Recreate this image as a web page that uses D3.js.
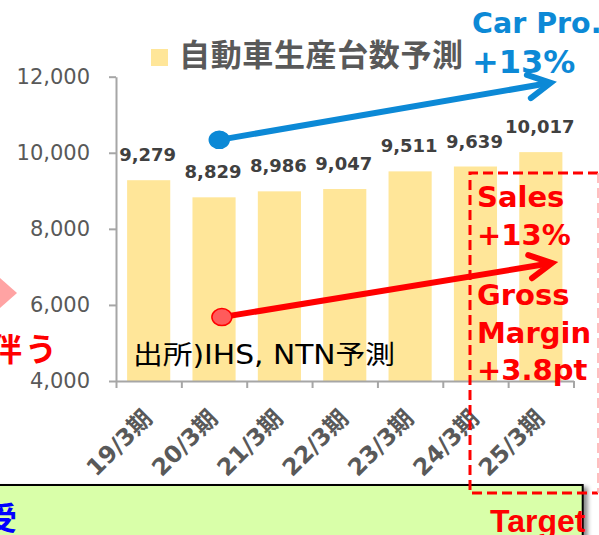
<!DOCTYPE html>
<html>
<head>
<meta charset="utf-8">
<script src="https://cdn.jsdelivr.net/npm/d3@7"></script>
<style>
  body { margin: 0; background: #fff; }
  svg { display: block; }
</style>
</head>
<body>
<div id="chart"></div>
<script>
// Chart data
const categories = ["19/3期", "20/3期", "21/3期", "22/3期", "23/3期", "24/3期", "25/3期"];
const production = [9279, 8829, 8986, 9047, 9511, 9639, 10017];
const yTicks = [4000, 6000, 8000, 10000, 12000];
const legendLabel = "自動車生産台数予測";

// Annotation arrows, in band-index / value units
const carArrowIdx = [1.58, 6.65];
const carArrowVal = [10340, 11840];
const salesArrowIdx = [1.62, 6.67];
const salesArrowVal = [5680, 7100];
const targetLines = ["Sales", "+13%", "Gross", "Margin", "+3.8pt"];

const svgWidth = 599;
const svgHeight = 535;
const margin = { top: 76.7, left: 116, right: 25.5, bottom: 154 };
const height = svgHeight - margin.top - margin.bottom;

const numFont = "'DejaVu Sans', 'Noto Sans CJK JP', sans-serif";
const jpFont = "'Noto Sans CJK JP', sans-serif";
const blue = "#0C89D6";
const red = "#FF0000";

const svg = d3.select("#chart")
    .append("svg")
    .attr("width", svgWidth)
    .attr("height", svgHeight);

const defs = svg.append("defs");
defs.append("filter")
    .attr("id", "shadow")
    .attr("x", "-10%").attr("y", "-10%").attr("width", "130%").attr("height", "150%")
    .append("feDropShadow")
    .attr("dx", 4).attr("dy", 3)
    .attr("stdDeviation", 2)
    .attr("flood-color", "#000")
    .attr("flood-opacity", 0.45);

// Scales
const x = d3.scaleBand()
    .domain(categories)
    .range([margin.left, svgWidth - margin.right])
    .paddingInner(0.34)
    .paddingOuter(0.17);

const xIdx = d3.scaleLinear()
    .domain([0, categories.length])
    .range([margin.left, svgWidth - margin.right]);

const y = d3.scaleLinear()
    .domain([4000, 12000])
    .range([margin.top + height, margin.top]);

// Bars
svg.append("g")
    .selectAll("rect")
    .data(production)
    .enter()
    .append("rect")
    .attr("x", (d, i) => x(categories[i]))
    .attr("y", d => y(d))
    .attr("width", x.bandwidth())
    .attr("height", d => y(4000) - y(d))
    .attr("fill", "#FFE699");

// Y axis
const yAxis = svg.append("g")
    .attr("transform", `translate(${margin.left},0)`)
    .call(d3.axisLeft(y).tickValues(yTicks).tickSizeInner(7).tickSizeOuter(0).tickPadding(19)
        .tickFormat(d3.format(",")));
yAxis.selectAll("path, line").attr("stroke", "#A6A6A6").attr("stroke-width", 2);
yAxis.selectAll("text")
    .attr("font-family", numFont)
    .attr("font-size", 21)
    .attr("fill", "#595959");

// X axis
const xAxis = svg.append("g")
    .attr("transform", `translate(0,${y(4000)})`)
    .call(d3.axisBottom(xIdx).tickValues(d3.range(categories.length + 1))
        .tickSizeInner(7).tickSizeOuter(0).tickFormat(""));
xAxis.selectAll("path, line").attr("stroke", "#A6A6A6").attr("stroke-width", 2);

svg.append("g")
    .selectAll("text")
    .data(categories)
    .enter()
    .append("text")
    .attr("transform", d => `translate(${x(d) + x.bandwidth() / 2 + 5},${y(4000) + 39}) rotate(-45)`)
    .attr("text-anchor", "end")
    .attr("font-family", numFont)
    .attr("font-weight", "bold")
    .attr("font-size", 23.5)
    .attr("fill", "#595959")
    .text(d => d);

// Data labels
svg.append("g")
    .selectAll("text")
    .data(production)
    .enter()
    .append("text")
    .attr("x", (d, i) => x(categories[i]) + x.bandwidth() / 2 - 1)
    .attr("y", d => y(d) - 19)
    .attr("text-anchor", "middle")
    .attr("font-family", numFont)
    .attr("font-weight", "bold")
    .attr("font-size", 18)
    .attr("fill", "#404040")
    .text(d => d3.format(",")(d));

// Legend
svg.append("rect")
    .attr("x", 151).attr("y", 49)
    .attr("width", 17).attr("height", 17)
    .attr("fill", "#FFE699");
svg.append("text")
    .attr("x", 179).attr("y", 66)
    .attr("font-family", jpFont)
    .attr("font-weight", "bold")
    .attr("font-size", 31)
    .attr("textLength", 284)
    .attr("lengthAdjust", "spacing")
    .attr("fill", "#595959")
    .text(legendLabel);

// Source note
svg.append("text")
    .attr("x", 133).attr("y", 364)
    .attr("font-family", numFont)
    .attr("font-size", 26)
    .attr("textLength", 262)
    .attr("lengthAdjust", "spacingAndGlyphs")
    .attr("fill", "#000")
    .text("出所)IHS, NTN予測");

// Arrow helper
function drawArrow(idx, val, color, fillColor) {
    const x0 = xIdx(idx[0]), y0 = y(val[0]);
    const x1 = xIdx(idx[1]), y1 = y(val[1]);
    const ang = Math.atan2(y1 - y0, x1 - x0);
    const len = 25, spread = 28 * Math.PI / 180;
    const a1 = [x1 - len * Math.cos(ang - spread), y1 - len * Math.sin(ang - spread)];
    const a2 = [x1 - len * Math.cos(ang + spread), y1 - len * Math.sin(ang + spread)];
    const g = svg.append("g");
    g.append("line")
        .attr("x1", x0).attr("y1", y0).attr("x2", x1 - 3 * Math.cos(ang)).attr("y2", y1 - 3 * Math.sin(ang))
        .attr("stroke", color).attr("stroke-width", 6);
    g.append("path")
        .attr("d", d3.line()([a1, [x1, y1], a2]))
        .attr("fill", "none")
        .attr("stroke", color).attr("stroke-width", 6)
        .attr("stroke-linejoin", "miter")
        .attr("stroke-linecap", "round");
    g.append("ellipse")
        .attr("cx", x0).attr("cy", y0)
        .attr("rx", 10).attr("ry", 8.5)
        .attr("fill", fillColor)
        .attr("stroke", color).attr("stroke-width", 1.5);
}

drawArrow(carArrowIdx, carArrowVal, blue, blue);
drawArrow(salesArrowIdx, salesArrowVal, red, "#FF5B5B");

// Car production text
svg.append("text")
    .attr("x", 472).attr("y", 33)
    .attr("font-family", numFont).attr("font-weight", "bold").attr("font-size", 28.5)
    .attr("fill", blue)
    .text("Car Pro.");
svg.append("text")
    .attr("x", 472).attr("y", 73)
    .attr("font-family", numFont).attr("font-weight", "bold").attr("font-size", 32)
    .attr("fill", blue)
    .text("+13%");

// Left side fragments
svg.append("polygon")
    .attr("points", "0,278 17,293 0,308")
    .attr("fill", "#FFA3A3");
svg.append("text")
    .attr("x", 22).attr("y", 361)
    .attr("text-anchor", "end")
    .attr("font-family", jpFont).attr("font-weight", "bold").attr("font-size", 32)
    .attr("fill", red)
    .text("伴");
svg.append("text")
    .attr("x", 25).attr("y", 361)
    .attr("font-family", jpFont).attr("font-weight", "bold").attr("font-size", 32)
    .attr("fill", red)
    .text("う");

// Bottom green box
svg.append("rect")
    .attr("x", -10).attr("y", 485)
    .attr("width", 592.7).attr("height", 70)
    .attr("fill", "#D9FFA9")
    .attr("stroke", "#000").attr("stroke-width", 2)
    .attr("filter", "url(#shadow)");
svg.append("text")
    .attr("x", 17).attr("y", 530)
    .attr("text-anchor", "end")
    .attr("font-family", jpFont).attr("font-weight", "bold").attr("font-size", 32)
    .attr("fill", "#0000FF")
    .text("受");

// Target dashed box
const box = svg.append("g")
    .attr("fill", "none")
    .attr("stroke-width", 3)
    .attr("stroke-dasharray", "10,5");
box.append("path")
    .attr("d", "M598,173 H470 V493 H598")
    .attr("stroke", red);
box.append("line")
    .attr("x1", 598).attr("y1", 173).attr("x2", 598).attr("y2", 493)
    .attr("stroke", "#FFAAAA").attr("stroke-width", 1.5);

svg.append("g")
    .selectAll("text")
    .data(targetLines)
    .enter()
    .append("text")
    .attr("x", 477)
    .attr("y", (d, i) => [207, 245, 305, 343, 380][i])
    .attr("font-family", numFont).attr("font-weight", "bold").attr("font-size", 29)
    .attr("fill", red)
    .text(d => d);

svg.append("text")
    .attr("x", 490).attr("y", 532)
    .attr("font-family", "'Liberation Sans', Arial, sans-serif")
    .attr("font-weight", "bold").attr("font-size", 32)
    .attr("fill", red)
    .text("Target");
</script>
</body>
</html>
